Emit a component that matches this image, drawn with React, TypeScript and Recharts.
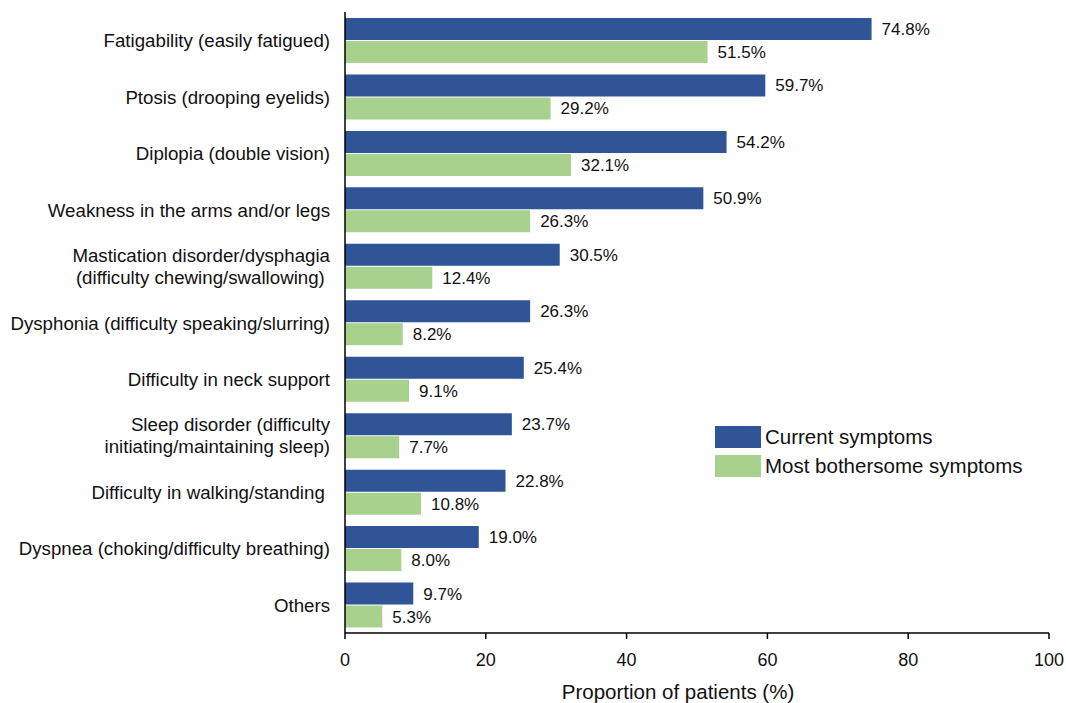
import React from "react";
import { BarChart, Bar, XAxis, YAxis, LabelList, Legend } from "recharts";

const categories: string[][] = [
  ["Fatigability (easily fatigued)"],
  ["Ptosis (drooping eyelids)"],
  ["Diplopia (double vision)"],
  ["Weakness in the arms and/or legs"],
  ["Mastication disorder/dysphagia", "(difficulty chewing/swallowing) "],
  ["Dysphonia (difficulty speaking/slurring)"],
  ["Difficulty in neck support"],
  ["Sleep disorder (difficulty", "initiating/maintaining sleep)"],
  ["Difficulty in walking/standing "],
  ["Dyspnea (choking/difficulty breathing)"],
  ["Others"],
];
const currentSymptoms = [74.8, 59.7, 54.2, 50.9, 30.5, 26.3, 25.4, 23.7, 22.8, 19.0, 9.7];
const mostBothersome = [51.5, 29.2, 32.1, 26.3, 12.4, 8.2, 9.1, 7.7, 10.8, 8.0, 5.3];
const xTicks = [0, 20, 40, 60, 80, 100];
const seriesNames = ["Current symptoms", "Most bothersome symptoms"];
const colors = ["#2F5597", "#A9D18E"];

const data = categories.map((c, i) => ({
  name: c.join("|"),
  current: currentSymptoms[i],
  bother: mostBothersome[i],
}));

const FONT = "'Liberation Sans', Arial, sans-serif";

const YTick = (props: any) => {
  const { x, y, payload } = props;
  const lines: string[] = String(payload.value).split("|");
  const lh = 22;
  const start = -((lines.length - 1) * lh) / 2;
  return (
    <text
      x={x - 7}
      y={y}
      textAnchor="end"
      fontSize={18.7}
      fontFamily={FONT}
      fill="#111"
      style={{ whiteSpace: "pre" }}
    >
      {lines.map((l, i) => (
        <tspan key={i} x={x - 7} dy={i === 0 ? start + 7 : lh}>
          {l}
        </tspan>
      ))}
    </text>
  );
};

const LegendContent = () => (
  <div style={{ fontFamily: FONT, fontSize: 20.5, color: "#111" }}>
    {seriesNames.map((n, i) => (
      <div key={n} style={{ display: "flex", alignItems: "center", height: 29 }}>
        <div style={{ width: 46, height: 22, background: colors[i], marginRight: 4 }} />
        <span>{n}</span>
      </div>
    ))}
  </div>
);

const fmt = (v: any) => `${Number(v).toFixed(1)}%`;

export default function App() {
  return (
    <div style={{ position: "fixed", left: 0, top: 0, width: 1066, height: 703, background: "#fff" }}>
      <BarChart
        width={1066}
        height={703}
        data={data}
        layout="vertical"
        margin={{ top: 12, right: 17, bottom: 0, left: 0 }}
        barSize={22}
        barGap={1}
      >
        <XAxis
          type="number"
          domain={[0, 100]}
          ticks={xTicks}
          height={70}
          axisLine={{ stroke: "#000", strokeWidth: 1.5 }}
          tickLine={{ stroke: "#000", strokeWidth: 1.5 }}
          tickSize={6}
          tick={{ fontSize: 18, fill: "#111", fontFamily: FONT, dy: 12 }}
          label={{
            value: "Proportion of patients (%)",
            position: "insideBottom",
            offset: 4,
            dx: -19,
            style: { fontSize: 20.5, fill: "#111", fontFamily: FONT },
          }}
        />
        <YAxis
          type="category"
          dataKey="name"
          width={345}
          axisLine={{ stroke: "#000", strokeWidth: 1.5 }}
          tickLine={false}
          tick={<YTick />}
          interval={0}
        />
        <Legend
          layout="horizontal"
          verticalAlign="middle"
          align="center"
          content={<LegendContent />}
          wrapperStyle={{ left: 715, top: 422, width: 340 }}
        />
        <Bar dataKey="current" fill={colors[0]} isAnimationActive={false}>
          <LabelList
            dataKey="current"
            position="right"
            offset={10}
            formatter={fmt}
            style={{ fontSize: 17, fill: "#111", fontFamily: FONT }}
          />
        </Bar>
        <Bar dataKey="bother" fill={colors[1]} isAnimationActive={false}>
          <LabelList
            dataKey="bother"
            position="right"
            offset={10}
            formatter={fmt}
            style={{ fontSize: 17, fill: "#111", fontFamily: FONT }}
          />
        </Bar>
      </BarChart>
    </div>
  );
}
